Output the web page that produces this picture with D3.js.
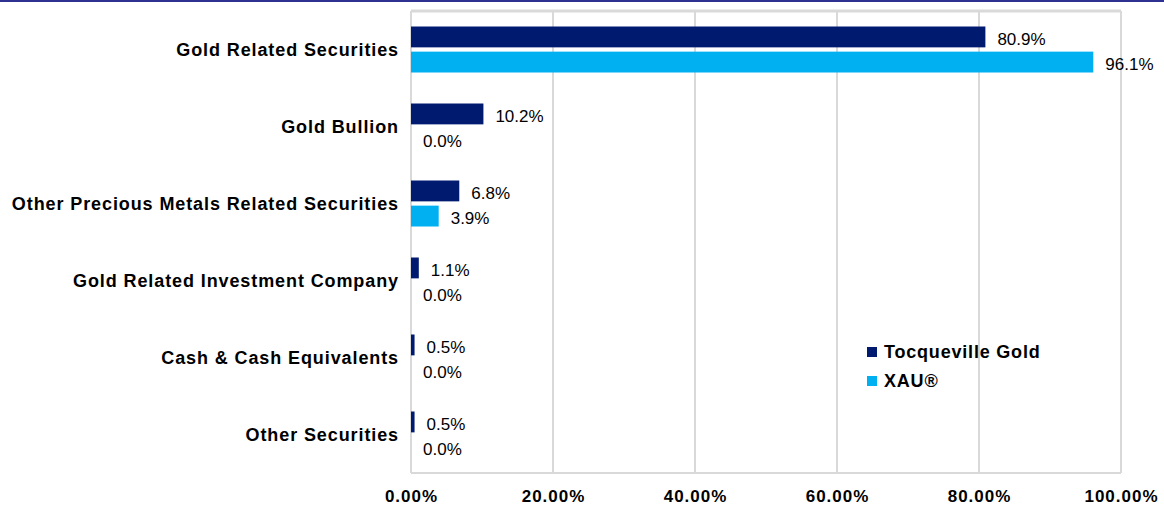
<!DOCTYPE html>
<html>
<head>
<meta charset="utf-8">
<script src="https://cdn.jsdelivr.net/npm/d3@7"></script>
<style>
  body { margin: 0; background: #fff; }
  svg { display: block; font-family: "Liberation Sans", Arial, sans-serif; }
</style>
</head>
<body>
<svg id="chart" width="1164" height="507"></svg>
<script>
var categories = [
  "Gold Related Securities",
  "Gold Bullion",
  "Other Precious Metals Related Securities",
  "Gold Related Investment Company",
  "Cash & Cash Equivalents",
  "Other Securities"
];
var seriesNames = ["Tocqueville Gold", "XAU®"];
var tocqueville = [80.9, 10.2, 6.8, 1.1, 0.5, 0.5];
var xau = [96.1, 0.0, 3.9, 0.0, 0.0, 0.0];
var xTicks = [0, 20, 40, 60, 80, 100];
var colors = ["#001A70", "#00B0F0"];

var svg = d3.select("#chart");
var plotLeft = 411, plotRight = 1121, plotTop = 11, plotBottom = 473;

// top rule
svg.append("rect").attr("x", 0).attr("y", 0).attr("width", 1164).attr("height", 2).attr("fill", "#2e3192");

var x = d3.scaleLinear().domain([0, 100]).range([plotLeft, plotRight]);
var y = d3.scaleBand().domain(categories).range([plotTop, plotBottom]);
var inner = d3.scaleBand().domain([0, 1]).range([15.5, 61.5]).paddingInner(0.17);

// grid
svg.append("g").selectAll("line").data(xTicks).join("line")
  .attr("x1", d => x(d)).attr("x2", d => x(d))
  .attr("y1", plotTop).attr("y2", plotBottom)
  .attr("stroke", "#d9d9d9").attr("stroke-width", 2);
svg.append("line").attr("x1", plotLeft).attr("x2", plotRight).attr("y1", plotTop).attr("y2", plotTop)
  .attr("stroke", "#d9d9d9").attr("stroke-width", 3);
svg.append("line").attr("x1", plotLeft).attr("x2", plotRight).attr("y1", plotBottom).attr("y2", plotBottom)
  .attr("stroke", "#d9d9d9").attr("stroke-width", 2);

var rows = categories.map((c, i) => ({ cat: c, vals: [tocqueville[i], xau[i]] }));

var g = svg.append("g").selectAll("g").data(rows).join("g")
  .attr("transform", d => "translate(0," + y(d.cat) + ")");

g.selectAll("rect").data(d => d.vals).join("rect")
  .attr("x", x(0))
  .attr("y", (d, i) => inner(i))
  .attr("width", d => x(d) - x(0))
  .attr("height", inner.bandwidth())
  .attr("fill", (d, i) => colors[i]);

g.selectAll("text.val").data(d => d.vals).join("text")
  .attr("class", "val")
  .attr("x", d => x(d) + 12)
  .attr("y", (d, i) => inner(i) + inner.bandwidth() / 2 + 2)
  .attr("dy", "0.35em")
  .attr("font-size", 17)
  .attr("fill", "#000")
  .text(d => d.toFixed(1) + "%");

// category labels
svg.append("g").selectAll("text").data(categories).join("text")
  .attr("x", 399)
  .attr("y", d => y(d) + y.bandwidth() / 2)
  .attr("dy", "0.35em")
  .attr("text-anchor", "end")
  .attr("font-size", 18).attr("font-weight", "bold")
  .attr("letter-spacing", 0.9)
  .text(d => d);

// x axis
var xAxis = d3.axisBottom(x).tickValues(xTicks).tickSize(0).tickPadding(0)
  .tickFormat(d => d.toFixed(2) + "%");
var ax = svg.append("g").attr("transform", "translate(0," + (plotBottom + 17) + ")").call(xAxis);
ax.select(".domain").remove();
ax.selectAll("text").attr("font-size", 17).attr("font-weight", "bold")
  .attr("letter-spacing", 1).attr("fill", "#000").attr("font-family", "Liberation Sans, Arial, sans-serif");

// legend
var leg = svg.append("g").attr("transform", "translate(867,352)");
var li = leg.selectAll("g").data(seriesNames).join("g")
  .attr("transform", (d, i) => "translate(0," + i * 29 + ")");
li.append("rect").attr("x", 0).attr("y", -5).attr("width", 10).attr("height", 10)
  .attr("fill", (d, i) => colors[i]);
li.append("text").attr("x", 17).attr("dy", "0.35em")
  .attr("font-size", 18).attr("font-weight", "bold").attr("letter-spacing", 0.8)
  .text(d => d);
</script>
</body>
</html>
